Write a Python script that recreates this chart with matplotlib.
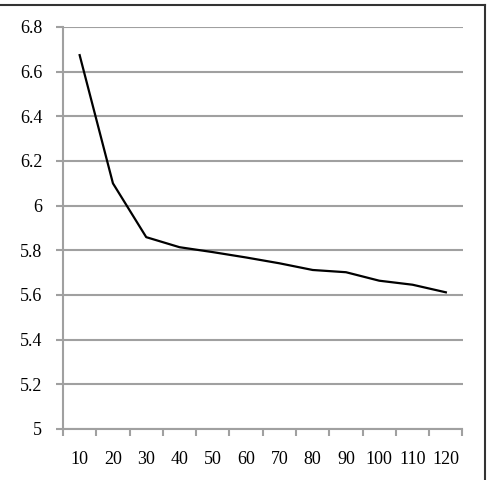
import matplotlib
matplotlib.use("Agg")
import matplotlib.pyplot as plt
from matplotlib.lines import Line2D
import numpy as np

categories = ["10", "20", "30", "40", "50", "60", "70", "80", "90", "100", "110", "120"]
values = [6.674, 6.100, 5.859, 5.814, 5.792, 5.768, 5.742, 5.712, 5.702, 5.664, 5.646, 5.612]
y_ticks = [5, 5.2, 5.4, 5.6, 5.8, 6, 6.2, 6.4, 6.6, 6.8]
y_labels = ["5", "5.2", "5.4", "5.6", "5.8", "6", "6.2", "6.4", "6.6", "6.8"]


def main():
	plt.rcParams["font.family"] = ["Liberation Serif", "DejaVu Serif"]
	fig = plt.figure(figsize=(4.87, 4.8), dpi=100)
	ax = fig.add_axes([63 / 487, 1 - 429 / 480, (462.5 - 63) / 487, (429 - 27) / 480])

	xs = np.arange(len(categories))
	ax.plot(xs, values, color="black", lw=1.6, zorder=3)

	ax.set_xlim(-0.5, len(categories) - 0.5)
	ax.set_ylim(5, 6.8)
	ax.set_yticks(y_ticks)
	ax.set_yticklabels(y_labels)
	ax.set_xticks(xs)
	ax.set_xticklabels(categories)
	ax.set_xticks(np.arange(len(categories) + 1) - 0.5, minor=True)

	ax.grid(axis="y", color="#a0a0a0", lw=1.5)
	ax.set_axisbelow(True)

	for side in ["top", "right"]:
		ax.spines[side].set_visible(False)
	for side in ["left", "bottom"]:
		ax.spines[side].set_color("#a0a0a0")
		ax.spines[side].set_linewidth(1.5)

	ax.tick_params(axis="x", which="major", length=0, pad=16, labelsize=13)
	ax.tick_params(axis="x", which="minor", length=5, width=1.5, color="#a0a0a0", direction="out")
	ax.tick_params(axis="y", length=5, width=1.5, color="#a0a0a0", pad=10, labelsize=13)

	# chart area border (top and right visible)
	fig.add_artist(Line2D([0, 484.5 / 487], [1 - 5 / 480, 1 - 5 / 480], color="#333333", lw=1.5, transform=fig.transFigure))
	fig.add_artist(Line2D([484.5 / 487, 484.5 / 487], [0, 1 - 5 / 480], color="#333333", lw=1.5, transform=fig.transFigure))

	fig.savefig("out.png", dpi=100)


if __name__ == '__main__':
	main()
